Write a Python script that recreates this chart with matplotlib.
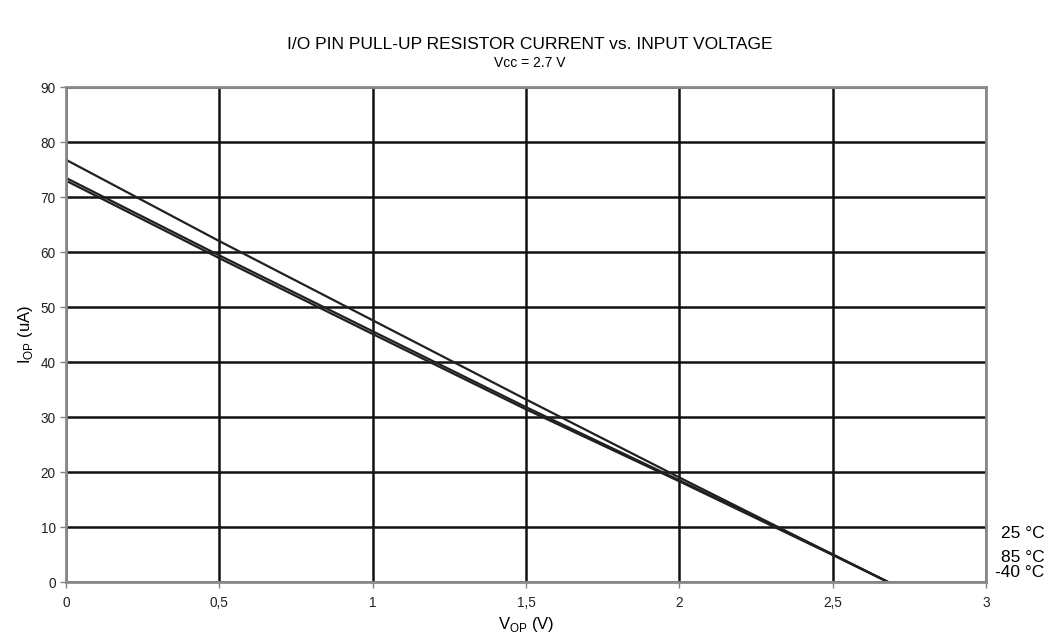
import matplotlib.pyplot as plt

plt.rcParams['font.family'] = ['Liberation Sans', 'DejaVu Sans']

# data
v_op = [0, 0.5, 1.0, 1.5, 2.0, 2.5, 2.68]
i_25 = [76.8, 62.0, 47.6, 33.2, 19.0, 5.0, 0]
i_85 = [73.5, 59.4, 45.6, 31.8, 18.5, 5.0, 0]
i_m40 = [73.0, 58.9, 45.1, 31.4, 18.3, 4.9, 0]
x_ticks = [0, 0.5, 1, 1.5, 2, 2.5, 3]
x_labels = ['0', '0,5', '1', '1,5', '2', '2,5', '3']
y_ticks = list(range(0, 91, 10))

fig = plt.figure(figsize=(10.59, 6.41), dpi=100)
ax = fig.add_axes([0.0623, 0.092, 0.869, 0.772])

lc = '#231f20'
for serie in (i_25, i_85, i_m40):
    ax.plot(v_op, serie, color=lc, lw=1.6, zorder=3)

ax.set_xlim(0, 3)
ax.set_ylim(0, 90)
ax.set_xticks(x_ticks)
ax.set_xticklabels(x_labels)
ax.set_yticks(y_ticks)
ax.grid(True, color='#111111', lw=1.8)
ax.tick_params(labelsize=9.8, colors='#808080', labelcolor='#222222', length=4, width=1)
ax.tick_params(axis='x', pad=6)
for s in ax.spines.values():
    s.set_color('#8a8a8a')
    s.set_linewidth(2)
    s.set_zorder(4)

ax.set_xlabel('V$_\\mathregular{OP}$ (V)', fontsize=12)
ax.set_ylabel('I$_\\mathregular{OP}$ (uA)', fontsize=12)

fig.text(0.5, 0.93, 'I/O PIN PULL-UP RESISTOR CURRENT vs. INPUT VOLTAGE', ha='center', va='center', fontsize=12.5)
fig.text(0.5, 0.902, 'Vcc = 2.7 V', ha='center', va='center', fontsize=10)

ax.text(3.19, 8.9, '25 °C', ha='right', va='center', fontsize=12.5)
ax.text(3.19, 4.5, '85 °C', ha='right', va='center', fontsize=12.5)
ax.text(3.19, 1.8, '-40 °C', ha='right', va='center', fontsize=12.5)

fig.savefig('out.png', dpi=100)
